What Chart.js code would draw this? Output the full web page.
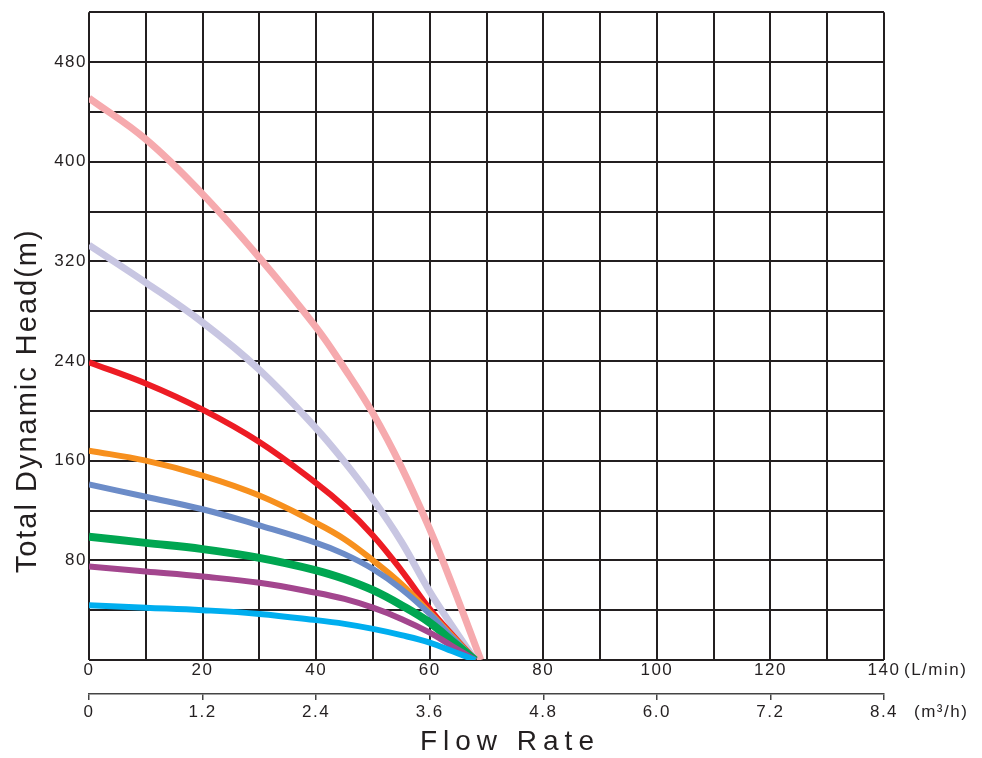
<!DOCTYPE html>
<html>
<head>
<meta charset="utf-8">
<script src="https://cdn.jsdelivr.net/npm/chart.js@4/dist/chart.umd.min.js"></script>
<style>
  html, body { margin: 0; padding: 0; background: #ffffff; }
  #wrap { width: 982px; height: 758px; }
</style>
</head>
<body>
<div id="wrap"><canvas id="c" width="982" height="758"></canvas></div>
<script>
// ---- data ----
const flowLpm   = [0, 10, 20, 30, 40, 45, 50, 55, 60, 64, 68];   // L/min
const pinkFlow  = [0, 10, 20, 30, 40, 45, 50, 55, 60, 64, 69];
const headPink     = [451, 418, 374, 323, 267, 234, 198, 155, 105, 60, 0];
const headLavender = [333, 303, 271, 233, 186, 159, 129, 95, 55, 27, 0];
const headRed      = [239, 222, 201, 175, 142, 123, 100, 72, 41, 20, 0];
const headOrange   = [168, 160, 148, 132, 110, 97, 80, 61, 38, 19, 0];
const headBlue     = [141, 131, 121, 108, 94, 85, 73, 57, 37, 18, 0];
const headGreen    = [99, 94, 89, 82, 72, 65, 56, 44, 30, 15, 0];
const headPurple   = [75, 71, 67, 62, 54, 49, 42, 33, 22, 11, 0];
const headCyan     = [44, 42, 40, 37, 32, 29, 25, 20, 14, 7, 0];

const yTicksShown  = [80, 160, 240, 320, 400, 480];
const xTicksShown  = [0, 20, 40, 60, 80, 100, 120, 140];
const yTitle = 'Total Dynamic Head(m)';
const xTitle = 'Flow Rate';
const unitLpm = '(L/min)';
const unitM3h = '(m\u00B3/h)';

const TXT = '#231F20';
const GRID = '#231F20';

function pts(xs, ys) { return xs.map((x, i) => ({ x: x, y: ys[i] })); }

const series = [
  { d: pts(flowLpm, headCyan),     c: '#00AEEF', w: 6 },
  { d: pts(flowLpm, headPurple),   c: '#A3468E', w: 6 },
  { d: pts(flowLpm, headGreen),    c: '#00A651', w: 8 },
  { d: pts(flowLpm, headBlue),     c: '#6C8CC8', w: 6 },
  { d: pts(flowLpm, headOrange),   c: '#F7901E', w: 6 },
  { d: pts(flowLpm, headRed),      c: '#ED1C24', w: 6 },
  { d: pts(flowLpm, headLavender), c: '#C8C6E2', w: 7 },
  { d: pts(pinkFlow, headPink),    c: '#F6AAAE', w: 7 },
];

const tickFont = { family: '"Liberation Sans", Arial, sans-serif', size: 17 };

const textPlugin = {
  id: 'textPlugin',
  beforeDraw(chart) {
    chart.ctx.letterSpacing = '1.5px';
  },
  afterDraw(chart) {
    const ctx = chart.ctx;
    const xs = chart.scales.x, ys = chart.scales.y;
    ctx.save();
    ctx.fillStyle = TXT;
    ctx.letterSpacing = '1.5px';
    ctx.font = '17px "Liberation Sans", Arial, sans-serif';
    ctx.textBaseline = 'middle';
    ctx.textAlign = 'left';
    ctx.fillText(unitLpm, xs.right + 20, 670);
    ctx.fillText(unitM3h, xs.right + 30, 712);
    ctx.letterSpacing = '6px';
    ctx.font = '28px "Liberation Sans", Arial, sans-serif';
    ctx.textAlign = 'center';
    ctx.fillText(xTitle, xs.getPixelForValue(73.6) + 3, 742);
    ctx.letterSpacing = '2px';
    ctx.font = '29px "Liberation Sans", Arial, sans-serif';
    ctx.translate(28, ys.getPixelForValue(208));
    ctx.rotate(-Math.PI / 2);
    ctx.fillText(yTitle, 0, 0);
    ctx.restore();
  }
};

new Chart(document.getElementById('c'), {
  type: 'line',
  data: {
    datasets: series.map(s => ({
      data: s.d,
      borderColor: s.c,
      backgroundColor: s.c,
      borderWidth: s.w,
      pointRadius: 0,
      fill: false,
      tension: 0.4,
      xAxisID: 'x',
      yAxisID: 'y'
    }))
  },
  options: {
    responsive: false,
    animation: false,
    layout: { padding: { top: 11, right: 98, left: 0, bottom: 0 } },
    plugins: { legend: { display: false }, tooltip: { enabled: false } },
    scales: {
      x: {
        type: 'linear', position: 'bottom', min: 0, max: 140,
        ticks: {
          stepSize: 10, autoSkip: false, maxRotation: 0, padding: 0,
          color: TXT, font: tickFont,
          callback: v => xTicksShown.includes(v) ? String(v) : ''
        },
        grid: { color: GRID, lineWidth: 2, drawTicks: false },
        border: { display: false },
        afterFit: s => { s.height = 34; }
      },
      x2: {
        type: 'linear', position: 'bottom', min: 0, max: 8.4,
        ticks: {
          stepSize: 1.2, autoSkip: false, maxRotation: 0, padding: 2,
          color: TXT, font: tickFont,
          callback: v => v === 0 ? '0' : v.toFixed(1)
        },
        grid: { drawOnChartArea: false, drawTicks: true, tickLength: 6, color: '#444', lineWidth: 1.5 },
        border: { display: true, color: '#444', width: 1.5 },
        afterFit: s => { s.height = 64; }
      },
      y: {
        type: 'linear', position: 'left', min: 0, max: 520,
        ticks: {
          stepSize: 40, autoSkip: false, padding: 2,
          color: TXT, font: tickFont,
          callback: v => yTicksShown.includes(v) ? String(v) : ''
        },
        grid: { color: GRID, lineWidth: 2, drawTicks: false },
        border: { display: false },
        afterFit: s => { s.width = 89; }
      }
    }
  },
  plugins: [textPlugin]
});
</script>
</body>
</html>
